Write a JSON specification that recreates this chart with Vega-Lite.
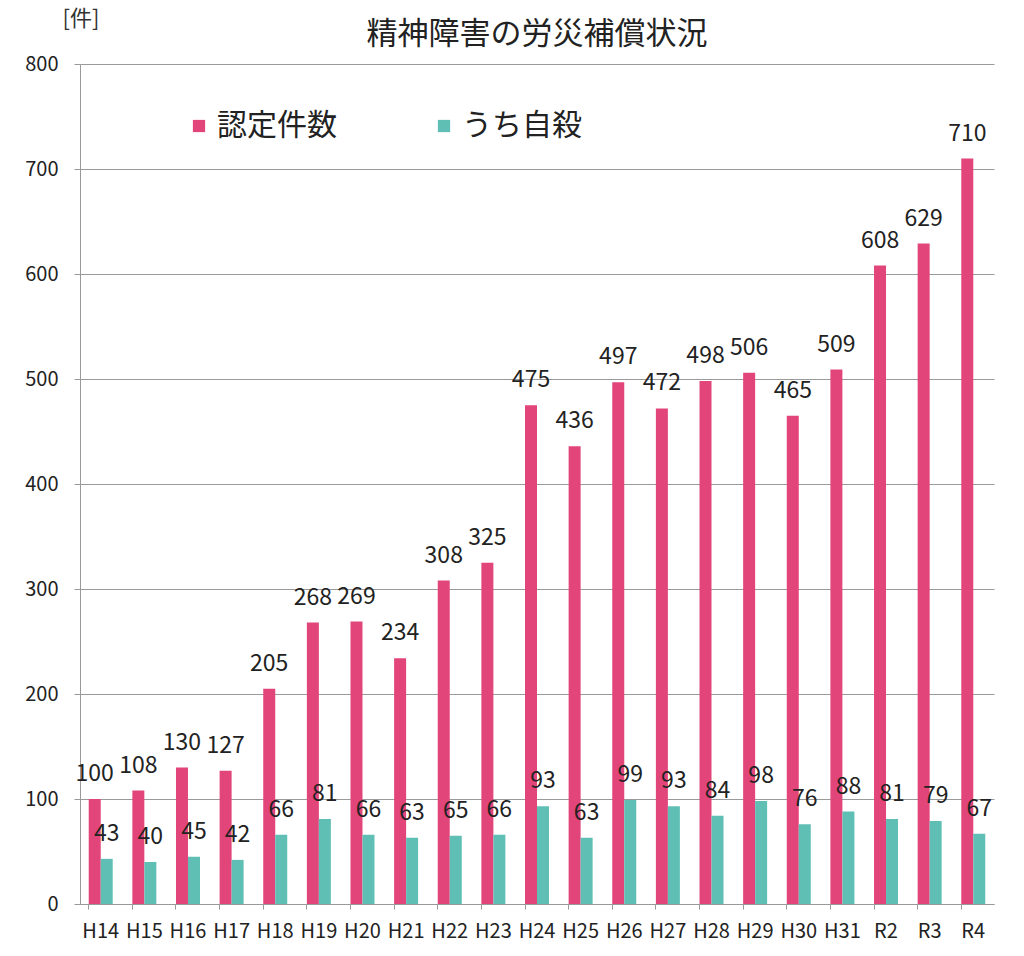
{
  "$schema": "https://vega.github.io/schema/vega-lite/v6.json",
  "autosize": "none",
  "width": 914,
  "height": 840,
  "padding": {"left": 80, "top": 64, "right": 30, "bottom": 52},
  "background": "white",
  "config": {"font": "Noto Sans CJK JP", "view": {"stroke": null}},
  "title": {"text": "精神障害の労災補償状況", "fontSize": 31, "fontWeight": "normal", "color": "#222", "anchor": "middle", "offset": -44},
  "data": {"values": [
    {"year": "H14", "series": "認定件数", "value": 100}, {"year": "H14", "series": "うち自殺", "value": 43},
    {"year": "H15", "series": "認定件数", "value": 108}, {"year": "H15", "series": "うち自殺", "value": 40},
    {"year": "H16", "series": "認定件数", "value": 130}, {"year": "H16", "series": "うち自殺", "value": 45},
    {"year": "H17", "series": "認定件数", "value": 127}, {"year": "H17", "series": "うち自殺", "value": 42},
    {"year": "H18", "series": "認定件数", "value": 205}, {"year": "H18", "series": "うち自殺", "value": 66},
    {"year": "H19", "series": "認定件数", "value": 268}, {"year": "H19", "series": "うち自殺", "value": 81},
    {"year": "H20", "series": "認定件数", "value": 269}, {"year": "H20", "series": "うち自殺", "value": 66},
    {"year": "H21", "series": "認定件数", "value": 234}, {"year": "H21", "series": "うち自殺", "value": 63},
    {"year": "H22", "series": "認定件数", "value": 308}, {"year": "H22", "series": "うち自殺", "value": 65},
    {"year": "H23", "series": "認定件数", "value": 325}, {"year": "H23", "series": "うち自殺", "value": 66},
    {"year": "H24", "series": "認定件数", "value": 475}, {"year": "H24", "series": "うち自殺", "value": 93},
    {"year": "H25", "series": "認定件数", "value": 436}, {"year": "H25", "series": "うち自殺", "value": 63},
    {"year": "H26", "series": "認定件数", "value": 497}, {"year": "H26", "series": "うち自殺", "value": 99},
    {"year": "H27", "series": "認定件数", "value": 472}, {"year": "H27", "series": "うち自殺", "value": 93},
    {"year": "H28", "series": "認定件数", "value": 498}, {"year": "H28", "series": "うち自殺", "value": 84},
    {"year": "H29", "series": "認定件数", "value": 506}, {"year": "H29", "series": "うち自殺", "value": 98},
    {"year": "H30", "series": "認定件数", "value": 465}, {"year": "H30", "series": "うち自殺", "value": 76},
    {"year": "H31", "series": "認定件数", "value": 509}, {"year": "H31", "series": "うち自殺", "value": 88},
    {"year": "R2", "series": "認定件数", "value": 608}, {"year": "R2", "series": "うち自殺", "value": 81},
    {"year": "R3", "series": "認定件数", "value": 629}, {"year": "R3", "series": "うち自殺", "value": 79},
    {"year": "R4", "series": "認定件数", "value": 710}, {"year": "R4", "series": "うち自殺", "value": 67}
  ]},
  "encoding": {
    "x": {"field": "year", "type": "nominal", "sort": null,
      "scale": {"paddingInner": 0.45, "paddingOuter": 0.2},
      "axis": {"title": null, "labelAngle": 0, "labelFontSize": 20, "labelColor": "#222", "domainColor": "#999", "tickColor": "#999", "tickSize": 5, "bandPosition": 0, "labelPadding": 12, "grid": false}},
    "xOffset": {"field": "series", "type": "nominal", "sort": ["認定件数", "うち自殺"]},
    "y": {"field": "value", "type": "quantitative",
      "scale": {"domain": [0, 800]},
      "axis": {"values": [0, 100, 200, 300, 400, 500, 600, 700, 800], "title": "[件]", "titleAngle": 0, "titleFontSize": 22, "titleFontWeight": "normal", "titleColor": "#333", "titleX": -18, "titleY": -34, "titleAlign": "left", "labelFontSize": 20, "labelColor": "#222", "ticks": true, "tickSize": 6, "tickColor": "#999", "labelPadding": 16, "domainColor": "#999", "gridColor": "#9a9a9a", "gridWidth": 1.2}},
    "color": {"field": "series", "type": "nominal", "sort": ["認定件数", "うち自殺"],
      "scale": {"domain": ["認定件数", "うち自殺"], "range": ["#e2457a", "#5fbfb5"]},
      "legend": {"title": null, "orient": "none", "legendX": 104, "legendY": 47, "direction": "horizontal", "columns": 2, "columnPadding": 92, "symbolType": "square", "symbolSize": 150, "symbolStrokeWidth": 0, "labelFontSize": 30, "labelColor": "#222", "labelOffset": 3}}
  },
  "layer": [
    {"mark": {"type": "bar"}},
    {"mark": {"type": "text", "baseline": "bottom", "dy": -13, "fontSize": 23, "color": "#222"},
     "encoding": {"text": {"field": "value", "type": "quantitative"}, "color": {"value": "#222"}}}
  ]
}
